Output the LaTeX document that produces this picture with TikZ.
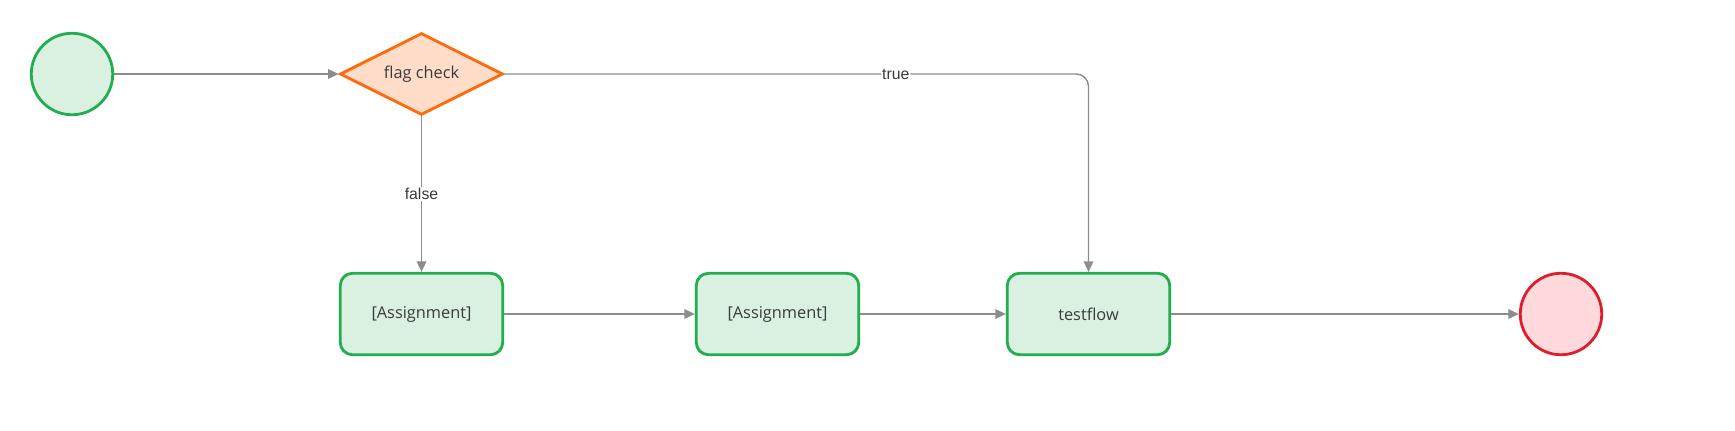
\documentclass[tikz,border=0pt]{standalone}
\usepackage{fontspec}
\setmainfont{Open Sans}
\newfontfamily\labelfont{Liberation Sans}
\usepackage{xcolor}
\usetikzlibrary{shapes.geometric}
\usetikzlibrary{arrows.meta}
\definecolor{stepgreen}{HTML}{22AD4E}
\definecolor{stepfill}{HTML}{DAF1E2}
\definecolor{checkorange}{HTML}{FF6A0D}
\definecolor{checkfill}{HTML}{FFDDC8}
\definecolor{stopred}{HTML}{DC1E2D}
\definecolor{stopfill}{HTML}{FFD9DC}
\definecolor{linegray}{HTML}{8A8D8F}
\definecolor{textgray}{HTML}{3A3A3A}

\begin{document}
\begin{tikzpicture}[x=0.02cm,y=-0.02cm,
        every node/.style={font=\fontsize{9.3}{11}\selectfont,text=textgray},
        startnode/.style={circle,draw=stepgreen,fill=stepfill,line width=1.6pt,minimum size=1.63cm,inner sep=0pt},
        stopnode/.style={circle,draw=stopred,fill=stopfill,line width=1.6pt,minimum size=1.63cm,inner sep=0pt},
        checknode/.style={diamond,draw=checkorange,fill=checkfill,line width=1.6pt,aspect=2,minimum width=3.26cm,minimum height=1.64cm,inner sep=0pt},
        stepbox/.style={rectangle,rounded corners=7pt,draw=stepgreen,fill=stepfill,line width=1.6pt,minimum width=3.25cm,minimum height=1.63cm},
        flowline/.style={draw=linegray,line width=0.8pt,-{Triangle[length=6pt,width=5.5pt]}},
        lbl/.style={fill=white,inner sep=0.5pt,font=\labelfont\fontsize{9}{10}\selectfont}]
        \useasboundingbox (0,0) rectangle (1735,430);
        \node[startnode] (start) at (72,74) {};
        \node[checknode] (check) at (421.5,74) {flag check};
        \node[stepbox] (assignA) at (421.5,314) {[Assignment]};
        \node[stepbox] (assignB) at (777.5,314) {[Assignment]};
        \node[stepbox] (testflow) at (1088.5,314) {testflow};
        \node[stopnode] (stop) at (1561,314) {};
        \draw[flowline] (start) -- (check);
        \draw[flowline,rounded corners=7pt] (check.east) -| node[lbl,pos=0.335] {true} (testflow.north);
        \draw[flowline] (check) -- node[lbl] {false} (assignA);
        \draw[flowline] (assignA) -- (assignB);
        \draw[flowline] (assignB) -- (testflow);
        \draw[flowline] (testflow) -- (stop);
    \end{tikzpicture}
\end{document}
